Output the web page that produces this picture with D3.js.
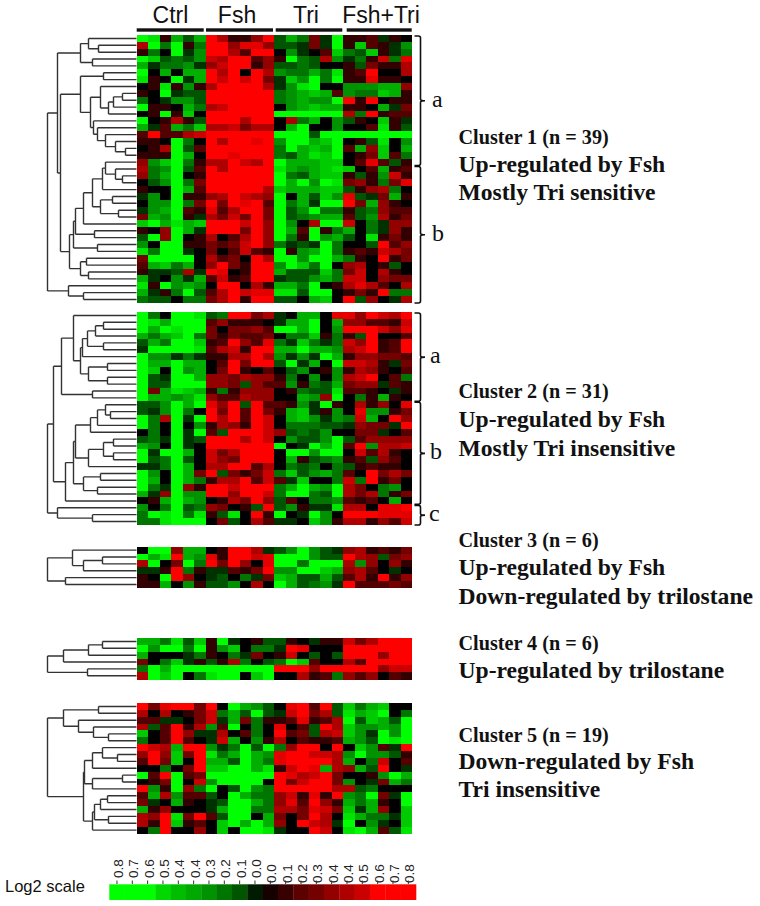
<!DOCTYPE html>
<html><head><meta charset="utf-8">
<script src="https://cdn.jsdelivr.net/npm/d3@7"></script>
<style>html,body{margin:0;background:#fff}svg{display:block}</style></head>
<body><svg id="c" width="760" height="906"></svg>
<script>
const groups = ["Ctrl","Fsh","Tri","Fsh+Tri"];
// Log2 ratios in tenths (-8 bright green, 0 black, +8 bright red)
const cluster1 = [
[-8,-7,1,-5,-2,-5, 8,5,1,1,4,8, -2,-5,-3,3,-1,-8, 1,1,2,-1,1,0],
[5,-8,-3,-8,1,-3, 8,8,4,7,7,4, -2,-2,-1,3,-1,-8, 1,-6,2,1,-1,-4],
[1,-3,0,-8,-1,-4, 8,8,5,2,8,8, 0,-4,-1,0,2,-6, -3,-2,-6,1,-1,-3],
[-8,-6,-2,-3,-2,-4, 6,5,8,8,2,4, 1,-8,-3,-2,5,-4, -1,-3,1,6,-3,7],
[-5,-1,-3,-3,-4,-1, 4,6,8,8,1,4, -2,-2,-3,-2,0,0, 1,-2,3,1,1,5],
[-8,0,-5,0,-5,-5, 8,5,8,0,8,5, -4,-3,-3,-5,-3,-7, 1,2,8,0,0,5],
[-7,1,0,-8,-1,-5, 8,6,8,6,8,3, -1,-6,-4,-8,-3,-8, 1,1,7,1,1,0],
[0,1,-7,1,-4,1, 5,8,8,8,8,5, -1,-4,-7,-8,0,0, -4,-4,-4,-5,-5,4],
[1,0,-8,-1,-2,-2, 8,8,8,8,8,8, -3,-4,-5,-6,-5,2, -4,-3,-3,-6,-5,1],
[-3,0,-1,-4,-4,-2, 8,8,8,8,8,8, -3,-4,-5,-4,-4,-8, 8,1,8,0,1,1],
[-8,1,1,0,-5,-3, 5,6,8,8,8,8, 0,-4,-5,-6,-5,-5, 1,1,0,-5,-1,3],
[0,1,-8,1,-6,0, 8,8,8,8,8,8, -8,-8,-8,-8,-8,-8, 5,-3,8,1,2,2],
[-8,0,1,5,1,-2, 8,8,8,5,8,8, 0,5,-3,-5,0,-4, -2,1,0,-6,1,-1],
[-5,-1,2,-5,-3,-6, 5,5,6,3,5,5, 0,-5,-8,0,0,-4, 0,0,2,-7,1,-2],
[2,8,2,2,5,6, 8,8,8,8,8,8, -8,-8,-8,-2,-8,-8, -8,-8,-8,-8,-8,-8],
[1,1,0,-8,-3,0, 8,5,8,8,7,8, -4,-8,-8,-5,-6,-8, 0,1,-2,-7,0,-4],
[0,1,5,-8,-2,2, 8,8,8,8,8,8, -3,-8,-5,-6,-5,-8, 2,-5,4,-6,0,-5],
[1,1,1,-8,-5,0, 8,8,7,8,8,8, -3,-2,-5,-7,-6,-8, 0,1,3,-6,2,-3],
[4,-4,-6,-8,-3,1, 5,5,8,6,5,8, -8,-5,-5,-5,-6,-6, 0,2,7,2,-2,1],
[5,-3,-4,-8,-2,2, 8,5,8,8,8,8, -7,-5,-4,-5,-6,-7, -6,0,2,-5,1,2],
[4,-3,-5,-8,0,1, 8,8,8,8,8,8, -8,-3,-2,-5,-6,-6, 1,-2,1,-4,6,1],
[0,-2,-4,-8,-3,3, 8,8,8,8,8,8, -8,-5,-8,-4,-8,-7, 3,4,1,-3,3,7],
[1,0,0,-8,-5,2, 8,8,8,8,8,5, -6,-5,-5,-5,-6,-6, -2,1,4,5,-3,0],
[-1,-4,0,-8,1,1, 4,5,8,6,5,4, -8,0,-5,-2,-6,-4, 7,-2,-1,3,-5,1],
[0,-4,-4,-8,-3,3, 8,3,8,7,8,2, -8,-3,-5,-1,-8,-8, 8,3,-5,4,1,0],
[-1,-4,-5,-8,2,1, 7,2,5,8,8,3, -8,-2,-4,-8,-3,-3, 1,-2,-3,4,2,2],
[3,-5,-4,-8,1,-1, 5,3,6,3,8,3, -8,-2,-3,-4,-5,-5, 2,-2,-4,5,1,3],
[-6,-8,-5,-7,-5,-6, 8,8,8,6,8,4, -8,-4,0,5,-8,-8, 6,0,-3,-1,4,4],
[1,0,4,-8,-5,-1, 8,8,8,3,8,4, -8,-5,2,-8,1,-3, -5,0,-3,-1,4,1],
[-2,-8,4,-8,0,1, 5,0,2,5,8,4, -8,-3,1,-8,-4,-5, -2,0,-7,1,3,1],
[-4,0,-8,-8,1,1, 3,2,3,6,8,4, -3,-1,-2,-1,-8,-3, 0,0,-2,8,2,4],
[-7,-3,-8,-8,-1,0, 3,0,2,6,2,1, -8,1,-4,-5,-8,-3, 1,2,1,6,5,3],
[3,-8,-8,-8,-8,0, 5,2,3,0,8,5, -8,-8,-4,-8,-8,-5, -3,1,0,8,1,3],
[2,-5,-6,-3,-5,0, 4,8,3,1,8,8, -4,-8,-6,-3,-8,0, 4,5,0,1,-2,0],
[1,-1,-1,-2,5,-1, 8,7,0,1,8,8, -5,-2,-2,-2,-6,-3, 3,6,0,5,1,0],
[-5,-1,0,-4,-1,-5, 2,6,1,2,8,8, -1,-2,-2,-4,-5,-3, 6,6,0,4,3,3],
[-7,1,-8,-4,-5,-4, 0,8,8,0,5,1, -5,-5,-3,-8,0,1, 5,7,5,2,0,5],
[-5,-1,1,-3,-8,-2, 2,5,8,6,7,7, -7,-7,-2,-8,-8,0, 1,3,1,8,-3,-3],
[-3,-2,-2,0,-3,-3, 3,5,8,1,8,8, -2,-2,0,-5,-6,0, 8,-2,4,0,-1,5]
];
const cluster2 = [
[-8,-3,0,-8,-8,-7, -2,-3,8,8,3,5, -1,0,-5,-5,0,7, 7,4,8,6,5,8],
[-8,-7,-5,-8,-8,-8, 2,4,1,1,1,0, -1,-5,-5,-8,0,-5, 4,4,2,2,1,6],
[-8,-5,-8,-7,-8,-8, 3,0,3,3,4,2, -8,-8,-5,-8,0,-4, 8,8,8,6,4,7],
[-5,-3,-5,-6,-8,-3, 3,1,3,2,2,3, 0,-3,-3,-6,1,-3, 1,-2,8,0,0,2],
[-2,-5,-3,-8,-8,-6, 1,2,8,4,2,7, -3,-1,-6,-3,-1,-3, 6,4,8,1,2,8],
[-1,-8,-8,-8,-8,-7, 2,5,6,1,8,8, -5,-5,-8,-5,-5,-4, 5,6,8,1,2,8],
[-8,-4,-4,-1,-3,-1, 1,1,5,5,8,5, -4,-1,-4,-1,-8,-5, 1,4,4,3,3,2],
[-8,-5,-5,-8,-5,-5, 0,2,8,3,8,8, -2,-8,-1,-5,0,-8, 6,6,5,1,-1,3],
[-8,-6,0,-8,-4,-5, 0,3,8,1,0,2, 0,-2,-4,0,1,-4, 1,5,4,1,0,2],
[-8,-2,-1,-8,-8,-5, 4,4,3,5,4,4, 1,-3,0,-4,0,-4, 5,6,8,0,2,-3],
[-8,-2,-2,-8,-8,-8, 4,4,3,-2,4,2, 2,-4,1,-3,-2,-5, 3,4,4,-1,2,1],
[-8,3,-5,-7,-6,-5, 1,-3,1,4,4,4, 0,1,-3,-2,-2,-7, 2,2,1,0,-1,1],
[-8,-5,-5,-4,-5,-7, 4,2,2,5,4,4, 0,0,-5,-4,4,-8, 0,-3,1,-5,1,0],
[-2,-2,-4,-8,-5,-8, 7,4,8,-2,8,2, 2,1,-4,-1,-8,1, 0,5,1,4,0,7],
[-2,-1,-4,-8,-3,0, 8,3,8,2,8,3, 1,-5,-6,-1,1,-4, 0,7,-4,-4,1,3],
[-8,-3,5,-8,-1,-8, 8,5,8,2,8,6, 0,-5,-6,-4,-1,-4, -3,6,-5,0,8,4],
[-8,-3,0,-8,0,-4, 1,5,4,1,8,6, 0,-3,-3,-3,-2,-2, -1,4,3,3,-1,8],
[0,-3,0,-8,-1,-8, 2,-2,8,8,8,6, 4,-2,-3,-2,-4,0, 0,3,3,-1,0,2],
[-2,-3,-1,-8,-1,-2, 8,8,8,5,8,6, 0,-4,-2,-2,-4,-8, -2,2,4,4,4,4],
[-5,-4,0,-8,-1,0, 8,8,8,8,8,8, -8,0,-1,-8,-5,-8, 2,8,-4,5,5,6],
[-8,-1,-8,-8,-5,0, 6,3,5,8,8,8, 0,-8,-8,-4,-8,-8, 0,6,2,5,1,0],
[-8,-2,-3,-8,-2,0, 6,4,3,8,8,8, 0,-5,1,-2,-3,-4, 1,2,-2,4,2,0],
[-1,-1,-3,-8,-5,0, 5,5,8,8,2,5, 0,-3,-2,-3,0,-3, -2,1,2,1,1,0],
[-8,-4,0,-8,-5,3, 8,-2,3,1,3,6, -3,-6,-2,-4,-5,-3, 2,0,8,3,5,3],
[-8,-5,0,-8,-5,-3, 1,5,5,8,2,6, 2,-1,-6,0,0,-3, 6,-3,8,1,3,0],
[-8,-3,-1,-8,4,1, 8,8,6,8,8,8, -3,-5,-8,-5,-4,-8, 5,3,0,-3,-4,0],
[-5,-1,4,-8,-4,-4, 8,8,4,8,8,6, -3,-8,-8,-3,-2,-8, 5,3,5,-3,1,3],
[0,1,-5,-8,-5,-4, 0,1,5,3,8,4, -2,2,0,-3,-3,-4, 2,1,2,0,-5,0],
[-4,0,-3,-8,-2,-3, 4,3,0,1,-2,8, -2,-4,1,-1,-1,-7, 5,5,0,7,7,8],
[-3,-8,-7,-8,-3,-7, 1,-2,-7,0,8,1, -8,0,-1,-8,-4,0, 8,8,8,7,7,7],
[-3,-3,-7,-8,-8,-8, 0,3,-2,0,5,2, -1,-1,0,-6,-4,1, 5,5,1,4,2,6]
];
const cluster3 = [
[0,-8,-8,4,-5,-5, 0,1,8,8,5,-1, -2,-4,-8,-4,-2,-1, 4,5,1,2,1,3],
[-8,-5,-7,8,-5,-4, 7,1,8,8,6,7, -8,-8,-8,-4,-2,-2, 8,5,4,-2,3,4],
[5,-8,0,3,-8,-3, 8,3,8,4,0,7, -8,-8,-3,-8,-8,-8, 5,-4,4,0,4,1],
[-1,-1,1,8,-3,1, -1,-1,2,1,3,8, -4,-4,-8,-8,-6,-5, 4,5,2,0,-1,0],
[1,0,-8,8,4,0, -1,-2,0,-3,-1,3, -6,-5,-2,-2,-5,-2, 2,5,1,8,1,4],
[1,1,-5,0,-4,1, -2,-2,-4,0,5,0, -8,-5,-2,-3,-4,-1, 8,2,2,2,3,2]
];
const cluster4 = [
[-5,-5,-3,-7,-2,-6, 1,-8,-1,0,1,-2, -2,1,0,-1,1,1, 6,3,5,8,8,8],
[-8,-4,-8,-8,-3,-8, 1,-4,-6,0,-3,-3, -1,8,7,0,0,0, 8,8,8,8,8,8],
[-5,0,0,0,-1,-3, 1,0,-3,-1,3,0, 1,6,0,-2,0,-2, 8,8,8,4,8,8],
[3,0,-3,-6,-1,1, -2,1,5,-3,0,-2, -3,-8,-6,2,0,0, 5,2,8,8,8,8],
[-3,-8,-5,-8,-8,-8, -8,-8,-8,-8,-8,-8, 8,8,8,4,8,8, 8,8,8,4,6,6],
[5,-8,-6,-8,0,-3, -7,-8,-8,0,-6,-8, 0,0,5,1,2,-3, 4,2,4,0,2,1]
];
const cluster5 = [
[8,3,7,8,8,3, 8,0,-8,-5,-4,-2, 0,7,8,2,8,-2, -6,-3,-5,-6,0,0],
[5,0,5,0,1,3, 6,-3,-5,-2,-8,-2, -1,6,8,3,5,-2, -7,-5,-6,-8,0,-3],
[2,2,-1,-1,0,3, 6,-1,-5,3,-3,1, 1,2,7,1,2,5, -8,-2,-6,-5,-2,-8],
[5,-2,2,8,1,5, -4,2,-8,0,-3,0, 7,0,2,-2,8,5, -6,-4,-4,-5,-4,-8],
[-6,0,2,8,4,-1, -1,5,0,2,-3,0, 8,2,3,-2,5,6, -6,-4,-1,-8,-4,-8],
[-3,0,2,8,2,0, -1,6,-5,0,-4,1, 5,0,2,1,1,2, -5,-4,-2,-8,-7,-8],
[8,6,5,-5,8,8, -4,-1,-3,-8,-2,-8, -3,4,8,8,0,8, 0,-6,-4,2,-1,8],
[4,8,4,-6,3,8, -7,-3,-5,-8,-5,-4, 7,8,8,6,6,5, -4,-8,-4,-4,-2,1],
[2,8,3,-6,0,8, -5,-5,-2,-8,-5,-3, 7,8,8,8,8,5, -5,0,-3,6,0,2],
[0,0,-3,0,3,8, -6,-6,-8,-8,-5,-7, 1,6,8,7,-5,5, 4,-5,-2,8,0,-1],
[-8,2,8,-8,2,3, -8,-8,-8,-8,-8,-8, 8,7,5,6,8,3, 0,0,1,-4,-8,-5],
[0,1,3,-8,0,6, -4,-8,-8,-8,-8,0, 8,3,6,8,8,3, -4,0,-1,3,-5,-3],
[8,-4,1,-8,4,-3, -8,0,-2,-8,-4,-3, 8,8,8,8,8,5, 5,-2,-3,0,0,0],
[2,-5,5,-4,2,2, -2,0,-8,-5,-3,-3, 4,6,1,7,1,8, -4,-3,-8,3,-1,-8],
[3,-1,0,-5,1,0, -1,-2,-8,-8,-5,-3, 4,7,2,8,4,1, -5,-3,-5,1,0,-8],
[-5,1,4,0,0,0, -1,-5,-8,-8,-3,-3, 5,5,3,7,6,3, -6,-1,-5,4,0,-6],
[5,4,8,-7,3,8, 2,-2,-8,-8,0,-5, 3,0,3,8,5,0, -7,-5,-3,-3,-1,-6],
[5,1,8,-6,1,2, 0,-6,-8,-5,-8,-5, 4,0,8,6,5,-1, -8,0,-4,-1,0,-6],
[0,-3,8,0,0,4, 0,-6,0,-8,-8,-7, -1,0,0,8,6,0, -7,-8,-5,2,-2,-7]
];
// Dendrograms: [merge distance, child, child]; 0 is a leaf (rows top to bottom)
const tree1 = [89,
  [79,
    [56,[48,0,[38,0,0]],[44,0,0]],
    [76,
      [71,
        [56,[33,0,0],
          [46,
            [36,0,[28,[23,[14,0,0],0],0]],
            [43,0,[39,0,[31,0,[21,0,[11,0,0]]]]]]]],
      [67,
        [63,
          [61,
            [53,[44,[34,[31,0,[21,0,[14,0,0]]],0],[36,[24,0,0],[18,0,0]]],0],
            [42,0,0]],
          [39,0,0]],
        [56,[50,0,0],[48,0,0]]]]],
  [68,0,[53,0,0]]];
const tree2 = [89,
  [83,
    [75,
      [63,0,[56,[54,[49,[41,[33,0,0],0],[33,0,0]],0],[48,[29,0,0],[29,0,0]]]],
      [44,0,0]],
    [71,
      [63,
        [61,
          [46,[39,[31,0,[26,0,0]],0],0],
          [48,[33,[23,0,0],[23,0,0]],0]],
        [53,[36,0,0],[39,0,0]]],
      0]],
  [79,0,[44,0,0]]];
const tree3 = [89,[64,0,[53,[34,0,0],0]],[71,0,0]];
const tree4 = [89,[73,[48,[34,0,0],0],0],[49,0,0]];
const tree5 = [89,
  [73,[38,0,0],[58,0,[43,0,[28,0,0]]]],
  [53,
    [52,[44,[34,0,[19,0,0]],0],[44,[14,0,0],0]],
    [44,[42,[36,[29,0,0],0],[28,0,0]],0]]];
const legendLabels = ["0.8","0.7","0.6","0.5","0.4","0.4","0.3","0.2","0.1","0.0","0.0","0.1","0.2","0.3","0.4","0.4","0.5","0.6","0.7","0.8"];
const legendLevels = [-8,-8,-8,-6.5,-5.5,-4.8,-4,-3,-2,-0.5,0.3,1.2,2.2,3,4,5,6,8,8,8];
const notes1 = ["Cluster 1 (n = 39)","Up-regulated by Fsh","Mostly Tri sensitive"];
const notes2 = ["Cluster 2 (n = 31)","Up-regulated by Fsh","Mostly Tri insensitive"];
const notes3 = ["Cluster 3 (n = 6)","Up-regulated by Fsh","Down-regulated by trilostane"];
const notes4 = ["Cluster 4 (n = 6)","Up-regulated by trilostane"];
const notes5 = ["Cluster 5 (n = 19)","Down-regulated by Fsh","Tri insensitive"];

const svg = d3.select("#c");
const defs = svg.append("defs");
defs.append("filter").attr("id","soft").attr("x","-2%").attr("y","-2%").attr("width","104%").attr("height","104%")
  .append("feGaussianBlur").attr("stdDeviation",0.45);

const intensity = d3.scalePow().exponent(0.8).domain([0,8]).range([0,255]).clamp(true);
const color = v => v<0 ? d3.rgb(0,intensity(-v),0) : d3.rgb(intensity(v),0,0);
const col = d3.scaleBand().domain(d3.range(24)).range([136.7,412]);
const distX = d3.scaleLinear().domain([0,96]).range([136.5,40.5]);
const rowH = 6.87;

const blocks = [
 {rows:cluster1, tree:tree1, top:35},
 {rows:cluster2, tree:tree2, top:312},
 {rows:cluster3, tree:tree3, top:546.7},
 {rows:cluster4, tree:tree4, top:638},
 {rows:cluster5, tree:tree5, top:703}
];

blocks.forEach(b=>{
  const n = b.rows.length;
  const y = d3.scaleBand().domain(d3.range(n)).range([b.top,b.top+n*rowH]);
  b.y = y;
  const g = svg.append("g").attr("filter","url(#soft)");
  g.selectAll("g").data(b.rows).join("g").attr("transform",(d,i)=>`translate(0,${y(i)})`)
    .selectAll("rect").data(d=>d).join("rect")
    .attr("x",(d,j)=>col(j)).attr("width",col.bandwidth()+0.3).attr("height",rowH+0.3)
    .attr("fill",d=>color(d)).attr("shape-rendering","crispEdges");
  // dendrogram
  const root = d3.hierarchy(b.tree,d=>Array.isArray(d)?d.slice(1):null);
  let leaf=0;
  root.eachAfter(nd=>{
    if(!nd.children){nd.py=y(leaf++)+rowH/2;nd.px=distX(0);}
    else{nd.py=d3.mean(nd.children,c=>c.py);nd.px=distX(nd.data[0]);}
  });
  const link = [];
  root.each(nd=>{
    if(nd.children){
      const ys=nd.children.map(c=>c.py);
      link.push(`M${nd.px},${d3.min(ys)}V${d3.max(ys)}`);
      nd.children.forEach(c=>link.push(`M${nd.px},${c.py}H${c.px}`));
    }
  });
  svg.append("path").attr("d",link.join("")).attr("fill","none").attr("stroke","#333").attr("stroke-width",1.4);
});

// column headers and bars
const bars = [[136.7,203.7],[206,273],[275.7,342.3],[346.7,411.7]];
groups.forEach((g,i)=>{
  svg.append("rect").attr("x",bars[i][0]).attr("y",28.3).attr("width",bars[i][1]-bars[i][0]).attr("height",3.4).attr("fill","#111");
  svg.append("text").text(g).attr("x",[170.5,237,306,381][i]).attr("y",23).attr("text-anchor","middle")
    .attr("font-family","Liberation Sans").attr("font-size",23).attr("fill","#111");
});

// curly brackets
function brace(b,r0,r1,label,lx){
  const y0=b.y(r0)+1, y1=b.y(r1)+rowH, m=(y0+y1)/2, x=420.5;
  svg.append("path").attr("fill","none").attr("stroke","#111").attr("stroke-width",1.6)
    .attr("d",`M414.5,${y0}H${x-2}Q${x},${y0} ${x},${y0+2}V${m-1.5}Q${x},${m} ${x+4.5},${m}Q${x},${m} ${x},${m+1.5}V${y1-2}Q${x},${y1} ${x-2},${y1}H414.5`);
  svg.append("text").text(label).attr("x",lx).attr("y",m+6).attr("font-family","Liberation Serif").attr("font-size",24).attr("fill","#111");
}
brace(blocks[0],0,18,"a",432);
brace(blocks[0],19,38,"b",432);
brace(blocks[1],0,12,"a",430);
brace(blocks[1],13,27,"b",430);
brace(blocks[1],28,30,"c",429);

// notes on the right
function note(lines,ys){
  lines.forEach((t,i)=>{
    svg.append("text").text(t).attr("x",458.5).attr("y",ys[i]).attr("font-family","Liberation Serif")
      .attr("font-weight","bold").attr("font-size",i===0?20.2:23.6).attr("fill","#111");
  });
}
note(notes1,[144,172,200]);
note(notes2,[398,427,456]);
note(notes3,[547,575,604]);
note(notes4,[650,678]);
note(notes5,[742,769,797]);

// legend
const lx = d3.scaleBand().domain(d3.range(20)).range([109.3,416]);
svg.append("g").attr("filter","url(#soft)").selectAll("rect").data(legendLevels).join("rect")
  .attr("x",(d,i)=>lx(i)).attr("y",884.3).attr("width",lx.bandwidth()+0.3).attr("height",15.7).attr("fill",d=>color(d));
svg.selectAll("text.leg").data(legendLabels).join("text").attr("class","leg").text(d=>d)
  .attr("transform",(d,i)=>`translate(${lx(i)+lx.bandwidth()/2+6},${i<10?878:883}) rotate(-90)`)
  .attr("font-family","Liberation Sans").attr("font-size",13.5).attr("fill","#222");
svg.append("path").attr("stroke","#333").attr("fill","none")
  .attr("d",d3.range(20).map(i=>`M${lx(i)+lx.bandwidth()/2},880.5V884`).join(""));
svg.append("text").text("Log2 scale").attr("x",5).attr("y",892).attr("font-family","Liberation Sans").attr("font-size",16.5).attr("fill","#111");
</script></body></html>
